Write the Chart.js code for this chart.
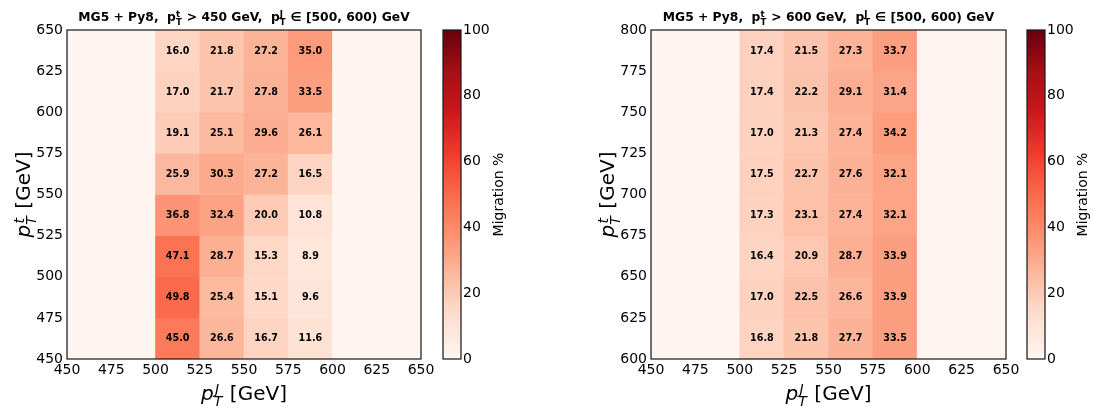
<!DOCTYPE html>
<html>
<head>
<meta charset="utf-8">
<title>Migration matrices</title>
<script src="https://cdn.jsdelivr.net/npm/chart.js@4.4.1/dist/chart.umd.min.js"></script>
<style>
  html, body { margin: 0; padding: 0; background: #ffffff; }
  #stage { position: relative; width: 1094px; height: 407px; overflow: hidden; background: #ffffff; }
  #stage canvas { position: absolute; top: 0; }
</style>
</head>
<body>
<div id="stage">
  <canvas id="heatA" width="440" height="407" style="left:0px"></canvas>
  <canvas id="barA" width="110" height="407" style="left:430px"></canvas>
  <canvas id="heatB" width="440" height="407" style="left:584px"></canvas>
  <canvas id="barB" width="80" height="407" style="left:1014px"></canvas>
</div>
<script>
// ---- bin edges and tick labels ----
const ptJetEdges = [450, 475, 500, 525, 550, 575, 600, 625, 650];
const ptTopEdgesA = [450, 475, 500, 525, 550, 575, 600, 625, 650];
const ptTopEdgesB = [600, 625, 650, 675, 700, 725, 750, 775, 800];
const xTickLabels = ['450', '475', '500', '525', '550', '575', '600', '625', '650'];
const yTickLabelsA = ['450', '475', '500', '525', '550', '575', '600', '625', '650'];
const yTickLabelsB = ['600', '625', '650', '675', '700', '725', '750', '775', '800'];
const colorbarTicks = [0, 20, 40, 60, 80, 100];

// ---- migration (%) per cell: rows = pT^t bins from lowest up, columns = pT^J bins ----
const migrationA = [
  [0, 0, 45.0, 26.6, 16.7, 11.6, 0, 0],
  [0, 0, 49.8, 25.4, 15.1,  9.6, 0, 0],
  [0, 0, 47.1, 28.7, 15.3,  8.9, 0, 0],
  [0, 0, 36.8, 32.4, 20.0, 10.8, 0, 0],
  [0, 0, 25.9, 30.3, 27.2, 16.5, 0, 0],
  [0, 0, 19.1, 25.1, 29.6, 26.1, 0, 0],
  [0, 0, 17.0, 21.7, 27.8, 33.5, 0, 0],
  [0, 0, 16.0, 21.8, 27.2, 35.0, 0, 0]
];
const migrationB = [
  [0, 0, 16.8, 21.8, 27.7, 33.5, 0, 0],
  [0, 0, 17.0, 22.5, 26.6, 33.9, 0, 0],
  [0, 0, 16.4, 20.9, 28.7, 33.9, 0, 0],
  [0, 0, 17.3, 23.1, 27.4, 32.1, 0, 0],
  [0, 0, 17.5, 22.7, 27.6, 32.1, 0, 0],
  [0, 0, 17.0, 21.3, 27.4, 34.2, 0, 0],
  [0, 0, 17.4, 22.2, 29.1, 31.4, 0, 0],
  [0, 0, 17.4, 21.5, 27.3, 33.7, 0, 0]
];

// ---- "Reds" colour map ----
const REDS = ['#fff5f0', '#fee0d2', '#fcbba1', '#fc9272', '#fb6a4a', '#ef3b2c', '#cb181d', '#a50f15', '#67000d'];
const REDS_RGB = REDS.map(h => [1, 3, 5].map(i => parseInt(h.substr(i, 2), 16)));
function reds(t) {
  t = Math.min(1, Math.max(0, t));
  const s = t * (REDS_RGB.length - 1);
  const i = Math.min(Math.floor(s), REDS_RGB.length - 2);
  const f = s - i;
  const a = REDS_RGB[i], b = REDS_RGB[i + 1];
  const c = [0, 1, 2].map(k => Math.round(a[k] + (b[k] - a[k]) * f));
  return `rgb(${c[0]},${c[1]},${c[2]})`;
}

const FONT = '"DejaVu Sans", "Liberation Sans", sans-serif';

// ---- text with stacked sub/superscripts ----
function fontStr(italic, weight, size) {
  return `${italic ? 'italic' : 'normal'} ${weight} ${size}px ${FONT}`;
}
function layoutParts(ctx, parts, size, weight) {
  let w = 0;
  for (const p of parts) {
    ctx.font = fontStr(p.italic, weight, size);
    p._w = ctx.measureText(p.t).width;
    p._sw = 0;
    if (p.sup || p.sub) {
      ctx.font = fontStr(p.italic, weight, size * 0.7);
      const a = p.sup ? ctx.measureText(p.sup).width : 0;
      const b = p.sub ? ctx.measureText(p.sub).width : 0;
      p._sw = Math.max(a, b) + size * 0.06;
    }
    w += p._w + p._sw;
  }
  return w;
}
function drawParts(ctx, parts, cx, baseline, size, weight, rotate) {
  ctx.save();
  ctx.translate(cx, baseline);
  if (rotate) ctx.rotate(rotate);
  const total = layoutParts(ctx, parts, size, weight);
  let x = -total / 2;
  ctx.fillStyle = '#000000';
  ctx.textAlign = 'left';
  ctx.textBaseline = 'alphabetic';
  for (const p of parts) {
    ctx.font = fontStr(p.italic, weight, size);
    ctx.fillText(p.t, x, 0);
    x += p._w;
    if (p.sup || p.sub) {
      ctx.font = fontStr(p.italic, weight, size * 0.7);
      if (p.sup) ctx.fillText(p.sup, x + (p.italic ? size * 0.06 : 0), -size * 0.3);
      if (p.sub) ctx.fillText(p.sub, x, size * 0.3);
      x += p._sw;
    }
  }
  ctx.restore();
}

// ---- plugins ----
const framePlugin = {
  id: 'frame',
  afterDatasetsDraw(chart) {
    const { ctx, chartArea: a } = chart;
    ctx.save();
    ctx.strokeStyle = '#1e1e1e';
    ctx.lineWidth = 1.25;
    ctx.strokeRect(a.left, a.top, a.right - a.left, a.bottom - a.top);
    ctx.restore();
  }
};

const cellLabelPlugin = {
  id: 'cellLabels',
  afterDatasetsDraw(chart) {
    const { ctx } = chart;
    const meta = chart.getDatasetMeta(0);
    const data = chart.data.datasets[0].data;
    ctx.save();
    ctx.font = `bold 9.6px ${FONT}`;
    ctx.fillStyle = '#000000';
    ctx.textAlign = 'center';
    ctx.textBaseline = 'middle';
    meta.data.forEach((el, i) => {
      const v = data[i].v;
      if (v > 0) ctx.fillText(v.toFixed(1), el.x, (el.y + el.base) / 2 + 0.5);
    });
    ctx.restore();
  }
};

const panelTextPlugin = {
  id: 'panelText',
  afterDraw(chart, args, opts) {
    const { ctx, chartArea: a } = chart;
    const cx = (a.left + a.right) / 2;
    const cy = (a.top + a.bottom) / 2;
    if (opts.title) drawParts(ctx, opts.title, cx, opts.titleY, 12.3, 'bold', 0);
    if (opts.xTitle) drawParts(ctx, opts.xTitle, cx, opts.xTitleY, 20, 'normal', 0);
    if (opts.yTitle) drawParts(ctx, opts.yTitle, opts.yTitleX, cy, 20, 'normal', -Math.PI / 2);
    if (opts.sideTitle) drawParts(ctx, opts.sideTitle, opts.sideTitleX, cy, 14, 'normal', -Math.PI / 2);
  }
};

// ---- chart builders ----
function cellsFrom(matrix, xEdges, yEdges) {
  const cells = [];
  matrix.forEach((row, r) => {
    row.forEach((v, c) => {
      cells.push({ x: (xEdges[c] + xEdges[c + 1]) / 2, y: [yEdges[r], yEdges[r + 1]], v });
    });
  });
  return cells;
}

function heatmap(id, matrix, yEdges, yTickLabels, text) {
  const yVals = yTickLabels.map(Number);
  const xVals = xTickLabels.map(Number);
  return new Chart(document.getElementById(id), {
    type: 'bar',
    data: {
      datasets: [{
        data: cellsFrom(matrix, ptJetEdges, yEdges),
        backgroundColor: c => reds((c.raw ? c.raw.v : 0) / 100),
        borderWidth: 0,
        barPercentage: 1,
        categoryPercentage: 1,
        grouped: false
      }]
    },
    options: {
      responsive: false,
      animation: false,
      events: [],
      layout: { padding: { left: 0, right: text.padRight, top: 30, bottom: 0 } },
      plugins: {
        legend: { display: false },
        tooltip: { enabled: false },
        panelText: text
      },
      scales: {
        x: {
          type: 'linear',
          offset: false,
          min: ptJetEdges[0],
          max: ptJetEdges[ptJetEdges.length - 1],
          afterBuildTicks: s => { s.ticks = xVals.map(v => ({ value: v })); },
          afterFit: s => { s.height = 48; },
          ticks: {
            callback: v => String(v),
            font: { family: FONT, size: 14 },
            color: '#000000',
            padding: 3,
            maxRotation: 0,
            autoSkip: false
          },
          grid: { display: false, drawTicks: false },
          border: { display: false }
        },
        y: {
          type: 'linear',
          stacked: false,
          min: yEdges[0],
          max: yEdges[yEdges.length - 1],
          afterBuildTicks: s => { s.ticks = yVals.map(v => ({ value: v })); },
          afterFit: s => { s.width = 67; },
          ticks: {
            callback: v => String(v),
            font: { family: FONT, size: 14 },
            color: '#000000',
            padding: 4,
            autoSkip: false
          },
          grid: { display: false, drawTicks: false },
          border: { display: false }
        }
      }
    },
    plugins: [framePlugin, cellLabelPlugin, panelTextPlugin]
  });
}

function colorbar(id, padRight, axisWidth, sideTitleX) {
  return new Chart(document.getElementById(id), {
    type: 'bar',
    data: {
      labels: ['Migration %'],
      datasets: [{
        data: [colorbarTicks[colorbarTicks.length - 1]],
        backgroundColor: c => {
          const { chart } = c;
          const { ctx, chartArea, scales } = chart;
          if (!chartArea) return REDS[0];
          const y0 = scales.y.getPixelForValue(colorbarTicks[0]);
          const y1 = scales.y.getPixelForValue(colorbarTicks[colorbarTicks.length - 1]);
          const g = ctx.createLinearGradient(0, y0, 0, y1);
          REDS.forEach((col, i) => g.addColorStop(i / (REDS.length - 1), col));
          return g;
        },
        borderWidth: 0,
        barPercentage: 1,
        categoryPercentage: 1
      }]
    },
    options: {
      responsive: false,
      animation: false,
      events: [],
      layout: { padding: { left: 13, right: padRight, top: 30, bottom: 48 } },
      plugins: {
        legend: { display: false },
        tooltip: { enabled: false },
        panelText: { sideTitle: [{ t: 'Migration %' }], sideTitleX: sideTitleX }
      },
      scales: {
        x: { display: false },
        y: {
          position: 'right',
          min: colorbarTicks[0],
          max: colorbarTicks[colorbarTicks.length - 1],
          afterBuildTicks: s => { s.ticks = colorbarTicks.map(v => ({ value: v })); },
          afterFit: s => { s.width = axisWidth; },
          ticks: {
            font: { family: FONT, size: 14 },
            color: '#000000',
            padding: 2
          },
          grid: { display: false, drawTicks: false },
          border: { display: false }
        }
      }
    },
    plugins: [framePlugin, panelTextPlugin]
  });
}

const xAxisTitle = [{ t: 'p', italic: true, sup: 'J', sub: 'T' }, { t: ' [GeV]' }];
const yAxisTitle = [{ t: 'p', italic: true, sup: 't', sub: 'T' }, { t: ' [GeV]' }];

heatmap('heatA', migrationA, ptTopEdgesA, yTickLabelsA, {
  padRight: 19,
  title: [{ t: 'MG5 + Py8,  ' }, { t: 'p', sup: 't', sub: 'T' }, { t: ' > 450 GeV,  ' },
          { t: 'p', sup: 'J', sub: 'T' }, { t: ' \u2208 [500, 600) GeV' }],
  titleY: 21,
  xTitle: xAxisTitle, xTitleY: 400,
  yTitle: yAxisTitle, yTitleX: 30
});
colorbar('barA', 19, 60, 73);

heatmap('heatB', migrationB, ptTopEdgesB, yTickLabelsB, {
  padRight: 18,
  title: [{ t: 'MG5 + Py8,  ' }, { t: 'p', sup: 't', sub: 'T' }, { t: ' > 600 GeV,  ' },
          { t: 'p', sup: 'J', sub: 'T' }, { t: ' \u2208 [500, 600) GeV' }],
  titleY: 21,
  xTitle: xAxisTitle, xTitleY: 400,
  yTitle: yAxisTitle, yTitleX: 30
});
colorbar('barB', 9, 40, 73);
</script>
</body>
</html>
